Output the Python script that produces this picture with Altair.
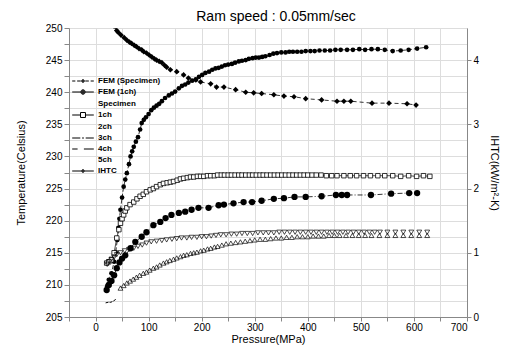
import altair as alt
import pandas as pd

# ---------------- data ----------------
P_fem_spec = [22, 25, 30, 35, 38, 41, 43, 45, 47, 50, 53, 56, 59, 63, 66, 69, 72, 76, 80, 84, 87, 91, 95, 100,
              105, 110, 115, 120, 125, 131, 138, 144, 150, 157, 163, 169, 175, 182, 189, 195, 201, 207, 214, 220,
              226, 232, 238, 244, 250, 257, 263, 270, 276, 283, 289, 296, 302, 308, 314, 320, 328, 335, 342, 350,
              358, 365, 372, 380, 388, 396, 405, 413, 422, 432, 442, 452, 462, 474, 485, 497, 508, 520, 532, 545,
              560, 575, 590, 606, 623]
T_fem_spec = [209.8, 210.8, 211.8, 213.6, 215.1, 217.0, 218.9, 220.3, 221.7, 223.6, 225.3, 226.4, 227.4, 228.8,
              230.0, 230.8, 231.5, 232.3, 233.0, 234.2, 235.2, 235.7, 236.1, 236.6, 237.2, 237.6, 237.9, 238.2,
              238.6, 239.1, 239.5, 239.8, 240.1, 240.6, 241.0, 241.2, 241.5, 241.8, 242.0, 242.4, 242.7, 243.0,
              243.2, 243.5, 243.7, 243.8, 244.0, 244.2, 244.3, 244.4, 244.6, 244.8, 244.9, 245.0, 245.2, 245.3,
              245.4, 245.4, 245.5, 245.6, 245.8, 246.0, 246.1, 246.2, 246.2, 246.3, 246.3, 246.3, 246.3, 246.4,
              246.4, 246.4, 246.5, 246.5, 246.5, 246.6, 246.6, 246.6, 246.6, 246.7, 246.6, 246.7, 246.7, 246.6,
              246.4, 246.5, 246.6, 246.8, 247.0]

P_fem_1ch = [21, 25, 30, 35, 40, 45, 50, 56, 66, 75, 87, 96, 109, 122, 132, 143, 157, 169, 181, 194, 213, 232,
             242, 260, 279, 295, 313, 336, 355, 375, 396, 426, 453, 464, 474, 519, 557, 591, 606]
T_fem_1ch = [209.2, 210.0, 210.6, 211.5, 212.6, 213.5, 214.1, 214.6, 215.7, 216.7, 217.5, 218.2, 219.3, 219.8,
             220.4, 220.9, 221.2, 221.4, 221.7, 222.0, 222.0, 222.4, 222.5, 222.7, 222.9, 222.9, 223.1, 223.4,
             223.5, 223.7, 223.7, 223.8, 224.0, 224.0, 224.0, 224.0, 224.2, 224.3, 224.3]

P_1ch = [21, 25, 30, 35, 40, 44, 47, 50, 53, 56, 59, 65, 72, 78, 84, 90, 96, 103, 109, 115, 122, 128, 135, 141,
         147, 154, 160, 166, 173, 179, 185, 192, 198, 204, 211, 217, 224, 230, 237, 243, 250, 256, 263, 270, 276,
         283, 290, 296, 303, 310, 316, 323, 330, 337, 344, 351, 358, 365, 372, 379, 386, 393, 400, 408, 416, 425,
         435, 445, 455, 468, 480, 492, 505, 518, 532, 545, 560, 575, 590, 605, 618, 630]
T_1ch = [213.4, 213.6, 213.9, 215.0, 217.3, 218.6, 219.6, 220.3, 220.9, 221.5, 222.0, 222.5, 222.9, 223.4, 223.8,
         224.1, 224.5, 224.8, 225.0, 225.3, 225.6, 225.8, 225.9, 226.0, 226.1, 226.3, 226.5, 226.6, 226.7, 226.8,
         226.8, 226.9, 226.9, 226.9, 227.0, 227.0, 227.0, 227.1, 227.1, 227.1, 227.1, 227.1, 227.1, 227.1, 227.1,
         227.1, 227.1, 227.1, 227.1, 227.1, 227.1, 227.1, 227.1, 227.1, 227.1, 227.1, 227.1, 227.1, 227.1, 227.1,
         227.1, 227.1, 227.1, 227.1, 227.1, 227.1, 227.0, 227.0, 227.0, 227.0, 227.0, 227.0, 227.0, 227.0, 227.0,
         227.0, 227.0, 226.9, 227.0, 226.9, 227.0, 226.9]

P_2ch = [22, 26, 30, 35, 40, 47, 55, 63, 72, 80, 88, 96, 105, 115, 125, 134, 144, 153, 162, 172, 181, 191, 200,
         209, 218, 227, 236, 246, 256, 266, 276, 286, 296, 306, 316, 326, 336, 346, 356, 366, 376, 386, 396, 406,
         416, 426, 436, 446, 456, 466, 476, 486, 496, 506, 516, 526, 536, 550, 565, 580, 595, 610, 625]
T_2ch = [213.2, 213.6, 214.0, 214.3, 214.7, 215.0, 215.3, 215.5, 215.7, 216.0, 216.2, 216.5, 216.7, 216.8, 216.9,
         217.0, 217.1, 217.2, 217.3, 217.3, 217.4, 217.4, 217.5, 217.5, 217.6, 217.7, 217.8, 217.8, 217.9, 217.9,
         218.0, 218.0, 218.0, 218.1, 218.1, 218.1, 218.1, 218.2, 218.2, 218.2, 218.2, 218.2, 218.2, 218.2, 218.2,
         218.2, 218.2, 218.2, 218.2, 218.2, 218.2, 218.2, 218.2, 218.2, 218.2, 218.2, 218.2, 218.2, 218.2, 218.2,
         218.2, 218.2, 218.2]

P_5ch = [47, 53, 59, 65, 71, 77, 83, 90, 96, 102, 109, 115, 121, 128, 134, 140, 147, 153, 160, 166, 172, 179, 185,
         191, 198, 204, 211, 217, 224, 230, 238, 246, 255, 264, 273, 282, 291, 300, 310, 320, 330, 340, 350, 360,
         370, 380, 390, 400, 410, 420, 430, 440, 450, 460, 472, 484, 496, 508, 520, 535, 550, 565, 580, 595, 610, 625]
T_5ch = [209.5, 209.9, 210.3, 210.6, 210.9, 211.2, 211.5, 211.8, 212.0, 212.3, 212.6, 212.8, 213.1, 213.4, 213.6,
         213.8, 214.0, 214.2, 214.4, 214.6, 214.7, 214.9, 215.0, 215.1, 215.3, 215.4, 215.6, 215.7, 215.9, 216.0,
         216.2, 216.4, 216.5, 216.6, 216.7, 216.8, 216.9, 217.0, 217.1, 217.1, 217.2, 217.3, 217.3, 217.4, 217.4,
         217.5, 217.5, 217.5, 217.6, 217.6, 217.6, 217.7, 217.7, 217.7, 217.7, 217.7, 217.7, 217.7, 217.7, 217.7,
         217.7, 217.7, 217.7, 217.7, 217.7, 217.7]

P_4ch = [19, 24, 29, 34, 39]
T_4ch = [207.2, 207.3, 207.3, 207.5, 207.8]

P_ihtc = [35, 40, 43, 48, 54, 59, 64, 68, 73, 77, 82, 87, 91, 96, 101, 106, 111, 115, 120, 125, 130, 134, 141, 153,
          166, 175, 189, 198, 217, 228, 242, 264, 283, 298, 313, 336, 355, 374, 396, 426, 455, 468, 481, 521, 553,
          587, 604]
IHTC = [4.53, 4.46, 4.43, 4.39, 4.35, 4.31, 4.28, 4.26, 4.23, 4.21, 4.18, 4.16, 4.13, 4.11, 4.08, 4.05, 4.02, 4.00,
        3.98, 3.96, 3.92, 3.89, 3.85, 3.82, 3.77, 3.72, 3.69, 3.66, 3.63, 3.58, 3.58, 3.54, 3.50, 3.49, 3.48, 3.46,
        3.44, 3.43, 3.40, 3.38, 3.36, 3.36, 3.36, 3.33, 3.33, 3.32, 3.30]

legend_names = ["FEM (Specimen)", "FEM (1ch)", "Specimen", "1ch", "2ch", "3ch", "4ch", "5ch", "IHTC"]

# ---------------- tables ----------------
def frame(p, t, name):
    return pd.DataFrame({"P": p, "T": t, "series": name})

temp_df = pd.concat([
    frame(P_fem_spec, T_fem_spec, "FEM (Specimen)"),
    frame(P_fem_1ch, T_fem_1ch, "FEM (1ch)"),
    frame(P_1ch, T_1ch, "1ch"),
    frame(P_2ch, T_2ch, "2ch"),
    frame(P_4ch, T_4ch, "4ch"),
    frame(P_5ch, T_5ch, "5ch"),
], ignore_index=True)
ihtc_df = pd.DataFrame({"P": P_ihtc, "IHTC": IHTC})

FONT = "Liberation Sans"

x_enc = alt.X("P:Q", scale=alt.Scale(domain=[-50, 700], nice=False, zero=False),
              axis=alt.Axis(values=list(range(-50, 701, 50)),
                            labelExpr="datum.value % 100 == 0 ? datum.label : ''",
                            format="d", tickSize=4, labelPadding=1, titlePadding=1,
                            title="Pressure(MPa)", titleFontWeight="normal"))
y_enc = alt.Y("T:Q", scale=alt.Scale(domain=[205, 250], nice=False, zero=False),
              axis=alt.Axis(values=[205 + 2.5 * i for i in range(19)],
                            labelExpr="datum.value % 5 == 0 ? datum.label : ''",
                            format="d", tickSize=5, labelPadding=2, titlePadding=19,
                            title="Temperature(Celsius)", titleFontWeight="normal"))

base = alt.Chart(temp_df)

def sel(name):
    return base.transform_filter(alt.datum.series == name)

fem_spec_line = sel("FEM (Specimen)").mark_line(color="black", strokeWidth=0.8, strokeDash=[4, 2], clip=True).encode(x=x_enc, y=y_enc)
fem_spec_pts = sel("FEM (Specimen)").mark_point(shape="circle", filled=True, color="black", size=22, opacity=1, clip=True).encode(x=x_enc, y=y_enc)

fem_1ch_line = sel("FEM (1ch)").mark_line(color="black", strokeWidth=0.8, strokeDash=[5, 2, 1, 2], clip=True).encode(x=x_enc, y=y_enc)
fem_1ch_pts = sel("FEM (1ch)").mark_point(shape="circle", filled=True, color="black", size=40, opacity=1, clip=True).encode(x=x_enc, y=y_enc)

ch1_line = sel("1ch").mark_line(color="black", strokeWidth=0.7, clip=True).encode(x=x_enc, y=y_enc)
ch1_pts = sel("1ch").mark_point(shape="square", filled=False, color="black", fill="white", fillOpacity=1,
                                size=20, strokeWidth=0.8, opacity=1, clip=True).encode(x=x_enc, y=y_enc)

ch2_pts = sel("2ch").mark_point(shape="triangle-down", filled=False, color="black", size=24, strokeWidth=0.7,
                                opacity=1, clip=True).encode(x=x_enc, y=y_enc)
ch5_pts = sel("5ch").mark_point(shape="triangle-up", filled=False, color="black", size=24, strokeWidth=0.7,
                                opacity=1, clip=True).encode(x=x_enc, y=y_enc)
ch4_line = sel("4ch").mark_line(color="black", strokeWidth=1, strokeDash=[3, 1], clip=True).encode(x=x_enc, y=y_enc)

def dot(r):
    # concentric rings drawn with the stroke so that they read as a solid dot
    out = ""
    rr = r
    while rr > 0.04:
        out += f"M{-rr:.2f},0A{rr:.2f},{rr:.2f} 0 1,0 {rr:.2f},0A{rr:.2f},{rr:.2f} 0 1,0 {-rr:.2f},0"
        rr -= 0.18
    return out

legend_paths = [
    "M-2.4,0H-1.7M-1.3,0H-0.5M0.5,0H1.3M1.7,0H2.4" + dot(0.3),
    "M-2.4,0H-0.55M0.55,0H2.4" + dot(0.5),
    "M0,0",
    "M-2.4,0H-0.55M0.55,0H2.4M-0.55,-0.55H0.55V0.55H-0.55Z",
    "M0,0",
    "M-2.4,0H-0.6M-0.2,0H0.2M0.6,0H2.4",
    "M-2.4,0H-1.2M0.2,0H2.4",
    "M0,0",
    "M-2.4,0H-0.35M0.35,0H2.4" + dot(0.3),
]

legend_layer = base.mark_point(filled=False, color="black", opacity=0).encode(
    x=x_enc, y=y_enc,
    shape=alt.Shape("series:N",
                    scale=alt.Scale(domain=legend_names, range=legend_paths),
                    legend=alt.Legend(orient="none", legendX=9, legendY=48, title=None,
                                      symbolSize=81, symbolOpacity=1,
                                      symbolStrokeColor="black", symbolStrokeWidth=1,
                                      labelFontSize=8, labelFont=FONT, labelFontWeight="bold",
                                      labelColor="black", labelOffset=10, rowPadding=2, padding=0)),
)

left = alt.layer(fem_spec_line, fem_spec_pts, fem_1ch_line, fem_1ch_pts, ch1_line, ch1_pts,
                 ch2_pts, ch5_pts, ch4_line, legend_layer)

y_right = alt.Y("IHTC:Q", scale=alt.Scale(domain=[0, 4.5], nice=False, zero=False),
                axis=alt.Axis(orient="right", values=[0.5 * i for i in range(10)],
                              labelExpr="datum.value % 1 == 0 ? datum.label : ''",
                              format="d", tickSize=4, labelPadding=2, titlePadding=10, titleAngle=90,
                              title="IHTC(kW/m²-K)", titleFontWeight="normal"))
ihtc_base = alt.Chart(ihtc_df)
ihtc_line = ihtc_base.mark_line(color="black", strokeWidth=0.8, strokeDash=[4, 3], clip=True).encode(x=x_enc, y=y_right)
ihtc_pts = ihtc_base.mark_point(shape="diamond", filled=True, color="black", size=32, opacity=1, clip=True).encode(x=x_enc, y=y_right)
right = alt.layer(ihtc_line, ihtc_pts)

chart = alt.layer(left, right).resolve_scale(y="independent").properties(
    width=398, height=289,
    autosize=alt.AutoSizeParams(type="none"),
    padding={"left": 61, "top": 20, "right": 39, "bottom": 35},
    title=alt.TitleParams("Ram speed : 0.05mm/sec", fontSize=14, fontWeight="normal", font=FONT,
                          color="black", offset=7, anchor="middle", dx=8, dy=8, frame="group"),
).configure_view(stroke="black", strokeWidth=1.5).configure_axis(
    domainColor="black", domainWidth=1.5, tickColor="black", tickWidth=1.2, grid=False,
    labelColor="black", labelFont=FONT, labelFontSize=11.5, labelFontWeight="bold",
    titleColor="black", titleFont=FONT, titleFontSize=13, titleFontWeight="normal",
).configure(background="white")

chart.save("out.html", embed_options={"renderer": "svg", "actions": False})
